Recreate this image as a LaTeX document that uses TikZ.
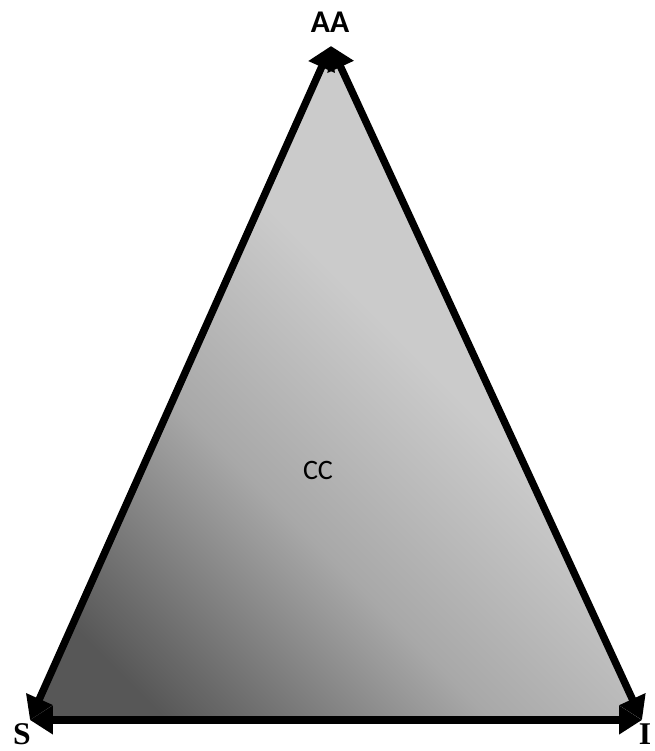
\documentclass[tikz,border=0pt]{standalone}
\usepackage{fontspec}
\setmainfont{Liberation Serif}
\newfontfamily\calib{Carlito}
\usetikzlibrary{arrows.meta}
\definecolor{darkgrey}{HTML}{575757}
\definecolor{midgrey}{HTML}{A8A8A8}
\definecolor{lightgrey}{HTML}{CBCBCB}
\pgfdeclarehorizontalshading{trishade}{100bp}{color(0bp)=(darkgrey); color(22bp)=(darkgrey); color(40bp)=(midgrey); color(56bp)=(lightgrey); color(100bp)=(lightgrey)}

\begin{document}
\begin{tikzpicture}[x=0.02cm,y=-0.02cm]
    \useasboundingbox (0,0) rectangle (655,751);
    \coordinate (aa) at (331,46);
    \coordinate (s) at (30,720);
    \coordinate (i) at (642,720);
    \shade[shading=trishade,shading angle=45] (aa)--(s)--(i)--cycle;
    \foreach \a/\b in {aa/s, aa/i, s/i}{
      \draw[{Triangle[length=0.46cm,width=0.55cm]}-{Triangle[length=0.46cm,width=0.55cm]},line width=4.2pt] (\a)--(\b);
    }
    \node[font=\calib\bfseries\fontsize{18}{21}\selectfont] (aalbl) at (330,22) {AA};
    \node[font=\bfseries\fontsize{18}{21}\selectfont] (slbl) at (22,734) {S};
    \node[font=\bfseries\fontsize{18}{21}\selectfont] (ilbl) at (645,734) {I};
    \node[font=\calib\fontsize{16}{18}\selectfont] (cc) at (318,470) {CC};
  \end{tikzpicture}
\end{document}
